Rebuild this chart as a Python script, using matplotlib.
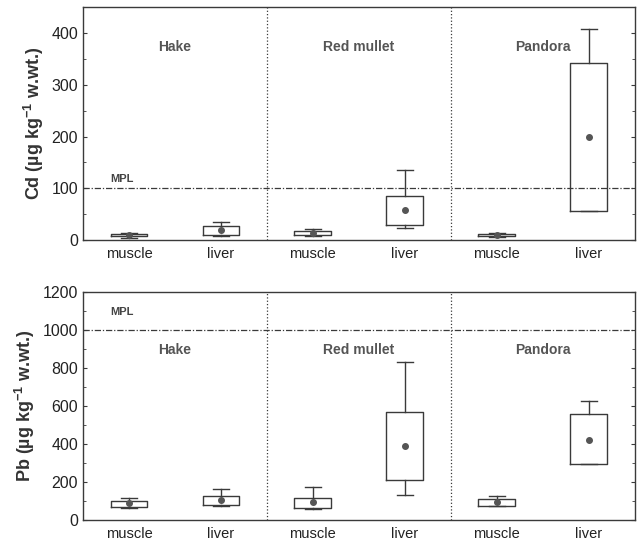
import matplotlib
matplotlib.use('Agg')
import matplotlib.pyplot as plt
from matplotlib.ticker import MultipleLocator

plt.rcParams['font.family'] = ['Liberation Sans', 'DejaVu Sans']
plt.rcParams['mathtext.fontset'] = 'custom'
plt.rcParams['mathtext.rm'] = 'Liberation Sans'
plt.rcParams['mathtext.bf'] = 'Liberation Sans:bold'

# dados
especies = ['Hake', 'Red mullet', 'Pandora']
tecidos = ['muscle', 'liver', 'muscle', 'liver', 'muscle', 'liver']

# Cd (ug/kg w.wt.)
cd_whislo = [5, 9, 9, 24, 7, 57]
cd_q1 = [8, 10, 10, 30, 9, 57]
cd_mean = [10, 20, 14, 59, 10, 199]
cd_q3 = [12, 28, 17, 86, 12, 342]
cd_whishi = [14, 35, 22, 135, 13, 407]

# Pb (ug/kg w.wt.)
pb_whislo = [63, 75, 60, 132, 72, 293]
pb_q1 = [68, 77, 61, 209, 75, 293]
pb_mean = [88, 104, 93, 391, 93, 421]
pb_q3 = [100, 128, 117, 570, 112, 556]
pb_whishi = [117, 163, 172, 833, 128, 626]

mpl_cd = 100
mpl_pb = 1000

cor = '#3a3a3a'


def painel(ax, lo, q1, mean, q3, hi, mpl_val, ymax, major, minor, ylabel, y_mpl, y_nome):
    stats = []
    for i in range(len(lo)):
        stats.append({'whislo': lo[i], 'q1': q1[i], 'med': mean[i], 'q3': q3[i],
                      'whishi': hi[i], 'mean': mean[i], 'fliers': []})
    pos = [0.5 + i for i in range(len(lo))]
    ax.bxp(stats, positions=pos, widths=0.4, capwidths=0.18, showmeans=True,
           showfliers=False,
           boxprops=dict(color=cor, linewidth=1.0),
           whiskerprops=dict(color=cor, linewidth=1.0),
           capprops=dict(color=cor, linewidth=1.0),
           medianprops=dict(linewidth=0),
           meanprops=dict(marker='o', markerfacecolor='#555555',
                          markeredgecolor='#555555', markersize=4))
    ax.axhline(mpl_val, color=cor, linestyle=(0, (5, 1.5, 1, 1.5)), linewidth=0.9)
    for xd in [2, 4]:
        ax.axvline(xd, color=cor, linestyle=':', linewidth=0.9)
    ax.set_xlim(0, 6)
    ax.set_ylim(0, ymax)
    ax.set_xticks(pos)
    ax.set_xticklabels(tecidos, fontsize=10.5, color='#222222')
    ax.tick_params(axis='x', length=0, pad=5)
    ax.yaxis.set_major_locator(MultipleLocator(major))
    ax.yaxis.set_minor_locator(MultipleLocator(minor))
    ax.tick_params(axis='y', which='both', direction='in', right=True,
                   labelsize=11.5, labelcolor='#222222', color=cor)
    ax.tick_params(axis='y', which='major', length=3)
    ax.tick_params(axis='y', which='minor', length=2)
    for s in ax.spines.values():
        s.set_color(cor)
        s.set_linewidth(1.0)
    ax.set_ylabel(ylabel, fontsize=13, fontweight='bold', color='#333333', labelpad=4)
    ax.text(0.3, y_mpl, 'MPL', fontsize=8, fontweight='bold', color='#444444')
    for i, nome in enumerate(especies):
        ax.text(1.0 + 2 * i, y_nome, nome, fontsize=10, fontweight='bold',
                color='#555555', ha='center', va='center')


fig = plt.figure(figsize=(6.38, 5.41), dpi=100)
ax1 = fig.add_axes([0.130, 0.556, 0.865, 0.431])
ax2 = fig.add_axes([0.130, 0.039, 0.865, 0.421])

painel(ax1, cd_whislo, cd_q1, cd_mean, cd_q3, cd_whishi, mpl_cd, 450, 100, 50,
       'Cd (µg kg$^{\\mathbf{-1}}$ w.wt.)', 112, 373)
painel(ax2, pb_whislo, pb_q1, pb_mean, pb_q3, pb_whishi, mpl_pb, 1200, 200, 100,
       'Pb (µg kg$^{\\mathbf{-1}}$ w.wt.)', 1080, 895)

fig.savefig('out.png', dpi=100)
